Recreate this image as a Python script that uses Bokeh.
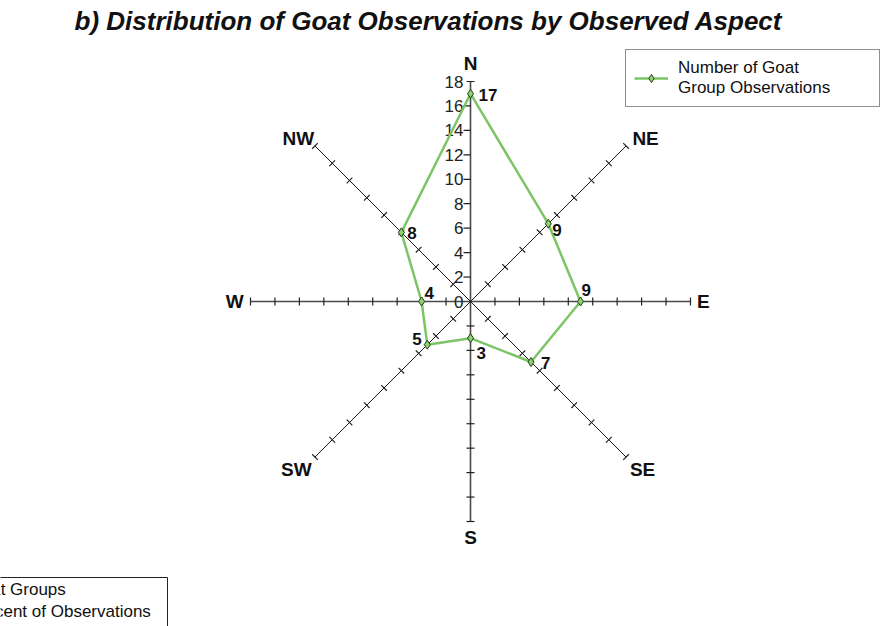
import numpy as np
from bokeh.plotting import figure
from bokeh.models import Range1d, ColumnDataSource, Legend, LegendItem
from bokeh.core.properties import value
from bokeh.embed import file_html
from bokeh.resources import INLINE

# ---------------- data ----------------
directions = ["N", "NE", "E", "SE", "S", "SW", "W", "NW"]
angles_deg = [90, 45, 0, -45, -90, -135, 180, 135]
counts = [17, 9, 9, 7, 3, 5, 4, 8]
tick_values = [0, 2, 4, 6, 8, 10, 12, 14, 16, 18]
axis_max = 18
title_text = "b) Distribution of Goat Observations by Observed Aspect"
legend_label = "Number of Goat\nGroup Observations"
legend2_lines = ["Goat Groups", "Percent of Observations"]

# label offsets (screen px) for the value labels
label_dx = [8, 4, 1, 10, 6, -15, 3, 6]
label_dy = [1, 6, -12, 1, 15, -6, -9, 1]
# compass label offsets (screen px)
comp_dx = [0, 7, -5, 4, 0, -6, 2, -4]
comp_dy = [0, 5, 0, 0, -2, 0, 0, 5]

# ---------------- geometry ----------------
W, H = 883, 626
S = 220.0 / 18.0            # px per unit
CX, CY = 470, 301           # canvas coords of the centre
def px(xp):
    return (xp - CX) / S
def py(yp):
    return (CY - yp) / S

x0 = -CX / S
y1 = CY / S
p = figure(width=W, height=H, output_backend="svg", toolbar_location=None,
           x_range=Range1d(x0, x0 + W / S), y_range=Range1d(y1 - H / S, y1),
           min_border=0, outline_line_color=None,
           x_axis_location=None, y_axis_location=None)
p.grid.visible = False
p.background_fill_color = "white"
p.border_fill_color = "white"

FONT = "Liberation Sans"
ang = np.radians(angles_deg)
ux, uy = np.cos(ang), np.sin(ang)

# spokes
main = [0, 2, 4, 6]
diag = [1, 3, 5, 7]
p.segment(x0=[0]*4, y0=[0]*4, x1=list(ux[main]*axis_max), y1=list(uy[main]*axis_max),
          line_color="#4a4a4a", line_width=1.6)
p.segment(x0=[0]*4, y0=[0]*4, x1=list(ux[diag]*axis_max), y1=list(uy[diag]*axis_max),
          line_color="#1a1a1a", line_width=1.0)

# ticks
h = 4.0 / S
tx0, ty0, tx1, ty1 = [], [], [], []
for i in range(8):
    nx, ny = -uy[i], ux[i]          # perpendicular
    for r in tick_values[1:]:
        cx, cy = ux[i]*r, uy[i]*r
        if directions[i] == "N" and r != axis_max:
            tx0.append(cx - 7.0/S); ty0.append(cy); tx1.append(cx); ty1.append(cy)
        else:
            tx0.append(cx + nx*h); ty0.append(cy + ny*h)
            tx1.append(cx - nx*h); ty1.append(cy - ny*h)
p.segment(x0=tx0, y0=ty0, x1=tx1, y1=ty1, line_color="#222222", line_width=1.2)

# tick labels on N axis
p.text(x=[0]*len(tick_values), y=tick_values, text=[str(t) for t in tick_values],
       x_offset=-7, text_align="right", text_baseline="middle",
       text_font=value(FONT), text_font_size="17px", text_color="#222222")

# compass labels
rl = 19.45
csrc = ColumnDataSource(dict(x=list(ux*rl), y=list(uy*rl), t=directions,
                             dx=comp_dx, dy=comp_dy))
p.text("x", "y", text="t", source=csrc, x_offset="dx", y_offset="dy",
       text_align="center", text_baseline="middle", text_font=value(FONT),
       text_font_style="bold", text_font_size="19px", text_color="#111111")

# data polygon
xs = list(ux*np.array(counts)) + [ux[0]*counts[0]]
ys = list(uy*np.array(counts)) + [uy[0]*counts[0]]
line_r = p.line(xs, ys, line_color="#7cc466", line_width=2.5)
src = ColumnDataSource(dict(x=list(ux*np.array(counts)), y=list(uy*np.array(counts)),
                            t=[str(c) for c in counts], dx=label_dx, dy=label_dy))
scat_r = p.scatter("x", "y", source=src, marker="diamond", size=9,
                   fill_color="#8fd370", line_color="#1f3d14", line_width=1)
p.text("x", "y", text="t", source=src, x_offset="dx", y_offset="dy",
       text_align="left", text_baseline="middle", text_font=value(FONT),
       text_font_style="bold", text_font_size="17px", text_color="#111111")

# title
p.text(x=[px(428)], y=[py(20)], text=[title_text], text_align="center",
       text_baseline="middle", text_font=value(FONT), text_font_style="bold italic",
       text_font_size="26px", text_color="#111111")

# legend (top right)
legend = Legend(items=[LegendItem(label=legend_label, renderers=[line_r, scat_r])],
                location=(625, H - 107), border_line_color="#222222",
                border_line_width=1, background_fill_color="white",
                background_fill_alpha=1.0,
                label_text_font=FONT, label_text_font_size="17px",
                label_text_line_height=1.45,
                label_text_color="#111111", glyph_width=34, label_standoff=10,
                label_width=193, padding=8, margin=0)
p.add_layout(legend)

# partially visible second legend (bottom left)
p.quad(left=[px(-40)], right=[px(167)], top=[py(577)], bottom=[py(640)],
       fill_color="white", line_color="#222222", line_width=1)
p.text(x=[px(-32)]*2, y=[py(589), py(611)], text=legend2_lines, text_align="left",
       text_baseline="middle", text_font=value(FONT), text_font_size="17px",
       text_color="#111111")

open("out.html", "w").write(file_html(p, INLINE))
